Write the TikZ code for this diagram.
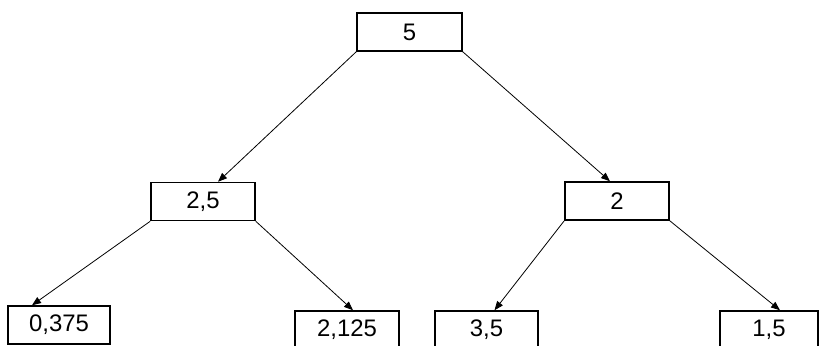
\documentclass[tikz,border=0pt]{standalone}
\usepackage{fontspec}
\setmainfont{Liberation Sans}
\usetikzlibrary{arrows.meta}
\begin{document}
\begin{tikzpicture}[x=1bp,y=-1bp,
  valbox/.style={draw=black, line width=1.5bp, rectangle, inner sep=0pt,
    minimum height=38bp, font=\fontsize{24}{24}\selectfont},
  edge/.style={draw=black, line width=0.8bp, -{Triangle[length=9bp,width=7bp]}}]
\useasboundingbox[fill=white] (0,0) rectangle (819,345);
% tree values
\node[valbox, minimum width=105bp] (r)   at (409.5,32)  {5};
\node[valbox, minimum width=104bp] (a)   at (203,201.5) {2,5};
\node[valbox, minimum width=104bp] (b)   at (617,201)   {2};
\node[valbox, minimum width=102bp] (aa)  at (59,325)    {0,375};
\node[valbox, minimum width=104bp] (ab)  at (347,330)   {2,125};
\node[valbox, minimum width=103bp] (ba)  at (486.5,330) {3,5};
\node[valbox, minimum width=98bp]  (bb)  at (769,330)   {1,5};
% branches from box corners to the children
\draw[edge] (r.south west) -- ([xshift=15bp]a.north);
\draw[edge] (r.south east) -- ([xshift=-7bp]b.north);
\draw[edge] (a.south west) -- ([xshift=-27bp]aa.north);
\draw[edge] (a.south east) -- ([xshift=6bp]ab.north);
\draw[edge] (b.south west) -- ([xshift=8bp]ba.north);
\draw[edge] (b.south east) -- ([xshift=11bp]bb.north);
\end{tikzpicture}
\end{document}
